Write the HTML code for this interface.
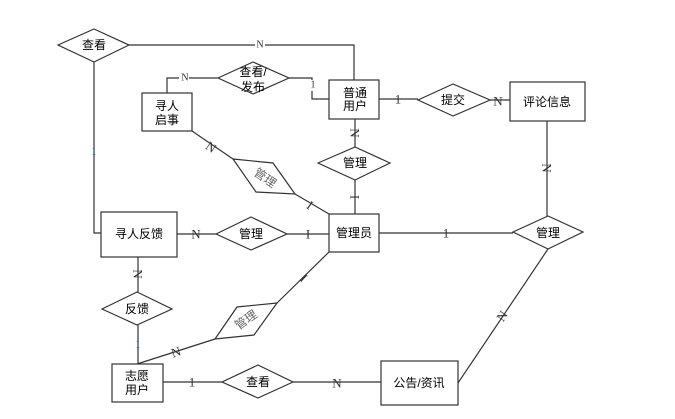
<!DOCTYPE html>
<html><head><meta charset="utf-8"><style>
html,body{margin:0;padding:0;background:#fff;}
svg{display:block;}
.t{font-family:"Liberation Sans","Noto Sans CJK SC",sans-serif;font-size:12px;fill:#000;text-anchor:middle;dominant-baseline:central;}
.l{font-family:"Liberation Serif",serif;font-size:13px;fill:#333;text-anchor:middle;dominant-baseline:central;}
.s{font-family:"Liberation Serif",serif;font-size:10px;fill:#333;text-anchor:middle;dominant-baseline:central;}
</style></head><body>
<svg width="675" height="419" viewBox="0 0 675 419" xmlns="http://www.w3.org/2000/svg">
<g stroke="#333" stroke-width="1.2" fill="none">
<polyline points="129,45 354,45 354,80"/>
<polyline points="94,62 94,233 101,233"/>
<polyline points="218,78 167,78 167,93"/>
<polyline points="289,78 312,78 312,99 329,99"/>
<line x1="192" y1="131" x2="233" y2="159"/>
<line x1="295" y1="194" x2="329" y2="214"/>
<line x1="355" y1="119" x2="355" y2="147"/>
<line x1="355" y1="180" x2="355" y2="214"/>
<line x1="379" y1="99" x2="418" y2="99"/>
<line x1="490" y1="100" x2="510" y2="100"/>
<line x1="547" y1="121" x2="547" y2="216"/>
<line x1="379" y1="233" x2="513" y2="233"/>
<line x1="548" y1="249" x2="458" y2="383"/>
<line x1="177" y1="234" x2="216" y2="234"/>
<line x1="287" y1="234" x2="329" y2="234"/>
<line x1="138" y1="257" x2="138" y2="292"/>
<line x1="138" y1="325" x2="138" y2="364"/>
<line x1="137" y1="364" x2="215" y2="339"/>
<line x1="277" y1="303" x2="329" y2="252"/>
<line x1="163" y1="382" x2="222" y2="382"/>
<line x1="293" y1="382" x2="381" y2="382"/>
</g>
<g stroke="#333" stroke-width="1.2" fill="#fff">
<polygon points="58,45 94,29 129,45 94,62"/>
<polygon points="218,78 253,62 289,78 253,94"/>
<polygon points="318,163 355,147 390,163 355,180"/>
<polygon points="418,100 453,84 490,100 453,116"/>
<polygon points="513,232 548,216 583,232 548,249"/>
<polygon points="216,234 251,217 287,234 251,250"/>
<polygon points="102,309 137,292 172,309 137,325"/>
<polygon points="222,382 258,365 293,382 258,398"/>
<polygon points="233,159 273,163 295,194 256,192"/>
<polygon points="215,339 237,307 277,303 254,335"/>
<rect x="329" y="80" width="50" height="39"/>
<rect x="142" y="93" width="50" height="38"/>
<rect x="510" y="82" width="75" height="39"/>
<rect x="329" y="214" width="50" height="38"/>
<rect x="101" y="212" width="76" height="45"/>
<rect x="112" y="364" width="51" height="38"/>
<rect x="381" y="361" width="77" height="44"/>
</g>
<text class="t" x="94" y="45">查看</text>
<text class="t" x="253" y="72">查看/</text>
<text class="t" x="253" y="87">发布</text>
<text class="t" x="355" y="93">普通</text>
<text class="t" x="355" y="106">用户</text>
<text class="t" x="167" y="106">寻人</text>
<text class="t" x="167" y="120">启事</text>
<text class="t" x="355" y="163">管理</text>
<text class="t" x="453" y="100">提交</text>
<text class="t" x="547" y="102">评论信息</text>
<text class="t" x="548" y="233">管理</text>
<text class="t" x="354" y="233">管理员</text>
<text class="t" x="139" y="234">寻人反馈</text>
<text class="t" x="251" y="234">管理</text>
<text class="t" x="137" y="309">反馈</text>
<text class="t" x="258" y="382">查看</text>
<text class="t" x="137" y="376">志愿</text>
<text class="t" x="137" y="390">用户</text>
<text class="t" x="419" y="383">公告/资讯</text>
<text class="t" x="265" y="178" fill="#666" style="fill:#666" transform="rotate(35 265 178)">管理</text>
<text class="t" x="246" y="320" style="fill:#666" transform="rotate(-35 246 320)">管理</text>
<g fill="#fff"><rect x="255" y="40" width="10" height="10"/><rect x="179" y="73" width="10" height="10"/><rect x="307" y="80" width="9" height="11"/></g>
<text class="s" x="260" y="45">N</text>
<text class="s" x="185" y="78">N</text>
<text class="s" x="313" y="85">1</text>
<text class="s" x="94" y="152" style="fill:#1a4f8a">1</text>
<text class="l" x="211" y="147" transform="rotate(35 211 147)">N</text>
<text class="l" x="310" y="205" transform="rotate(35 310 205)">I</text>
<text class="l" x="355" y="133" transform="rotate(90 355 133)">N</text>
<text class="l" x="355" y="197" transform="rotate(90 355 197)">I</text>
<text class="l" x="398" y="99">1</text>
<text class="l" x="498" y="101">N</text>
<text class="l" x="547" y="168" transform="rotate(90 547 168)">N</text>
<text class="l" x="446" y="233">1</text>
<text class="l" x="502" y="316" transform="rotate(-56 502 316)">N</text>
<text class="l" x="196" y="234">N</text>
<text class="l" x="308" y="234">I</text>
<text class="l" x="138" y="274" transform="rotate(90 138 274)">N</text>
<text class="s" x="138" y="345" style="fill:#1a4f8a">1</text>
<text class="l" x="176" y="352" transform="rotate(-18 176 352)">N</text>
<text class="l" x="304" y="278" transform="rotate(44 304 278)">I</text>
<text class="l" x="192" y="382">1</text>
<text class="l" x="337" y="383">N</text>
</svg>
</body></html>
